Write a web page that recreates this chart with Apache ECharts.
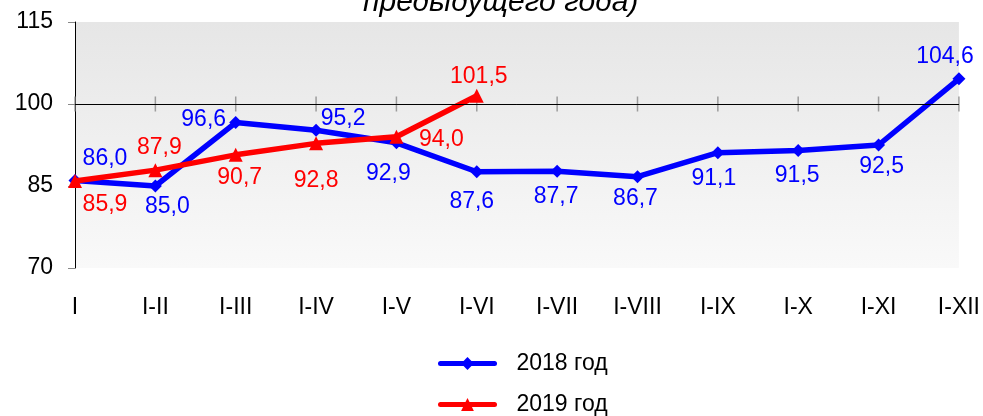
<!DOCTYPE html>
<html lang="ru">
<head>
    <meta charset="UTF-8">
    <title>Индексы</title>
    <script src="https://cdn.jsdelivr.net/npm/echarts@6/dist/echarts.min.js"></script>
    <style>
        html, body { margin: 0; padding: 0; background: #fff; }
        #chart { width: 983px; height: 416px; }
    </style>
</head>
<body>
    <div id="chart"></div>
    <script type="text/javascript">
        // данные
        var categories = ['I', 'I-II', 'I-III', 'I-IV', 'I-V', 'I-VI', 'I-VII', 'I-VIII', 'I-IX', 'I-X', 'I-XI', 'I-XII'];
        var data2018 = [86.0, 85.0, 96.6, 95.2, 92.9, 87.6, 87.7, 86.7, 91.1, 91.5, 92.5, 104.6];
        var data2019 = [85.9, 87.9, 90.7, 92.8, 94.0, 101.5];
        var seriesNames = ['2018 год', '2019 год'];
        var yMin = 70, yMax = 115, yStep = 15, baseLine = 100;

        // смещения подписей (px) относительно точки
        var off2018 = [[30, -22], [12, 21], [-32, -3], [27, -12], [-8, 31], [-5, 30], [-1, 25], [-2, 22], [-4, 26], [-1, 25], [3, 22], [-14, -22]];
        var off2019 = [[30, 24], [4, -22], [4, 23], [0, 37], [45, 3], [2, -19]];

        var font = 'Liberation Sans, Arial, sans-serif';
        function fmt(p) { return p.value.toFixed(1).replace('.', ','); }
        function withLabels(arr, offs) {
            return arr.map(function (v, i) { return { value: v, label: { offset: offs[i] } }; });
        }
        // одна легенда на каждую серию, друг под другом
        function legendFor(name, top) {
            return {
                data: [name],
                left: 438,
                top: top,
                padding: 0,
                itemWidth: 54,
                itemHeight: 16,
                lineStyle: { width: 5, cap: 'round' },
                textStyle: { fontFamily: font, fontSize: 23, color: '#000', padding: [0, 0, 0, 17] }
            };
        }

        var chart = echarts.init(document.getElementById('chart'));
        var option = {
            animation: false,
            title: {
                text: 'предыдущего года)',
                left: 358,
                top: -17,
                textStyle: { fontFamily: font, fontSize: 30, fontStyle: 'italic', fontWeight: 'normal', color: '#000' }
            },
            legend: [legendFor(seriesNames[0], 352), legendFor(seriesNames[1], 393)],
            grid: {
                left: 75, right: 23, top: 22, bottom: 148,
                show: true,
                borderWidth: 0,
                backgroundColor: {
                    type: 'linear', x: 0, y: 0, x2: 0, y2: 1,
                    colorStops: [{ offset: 0, color: '#e6e6e6' }, { offset: 1, color: '#f9f9f9' }]
                }
            },
            xAxis: {
                type: 'category',
                data: categories,
                boundaryGap: false,
                axisLine: { show: false },
                axisTick: { show: false },
                axisLabel: { fontFamily: font, fontSize: 23, color: '#000', margin: 28 }
            },
            yAxis: {
                type: 'value',
                min: yMin, max: yMax, interval: yStep,
                axisLine: { show: true, lineStyle: { color: '#000', width: 1 } },
                axisTick: { show: true, length: 7, lineStyle: { color: '#888' } },
                splitLine: { show: false },
                axisLabel: { fontFamily: font, fontSize: 23, color: '#000', margin: 22 }
            },
            series: [
                {
                    // засечки на линии 100
                    type: 'scatter',
                    data: categories.map(function () { return baseLine; }),
                    symbol: 'rect',
                    symbolSize: [1.5, 15],
                    itemStyle: { color: '#888' },
                    silent: true,
                    z: 1,
                    markLine: {
                        silent: true,
                        symbol: 'none',
                        label: { show: false },
                        lineStyle: { color: '#000', width: 1, type: 'solid' },
                        data: [{ yAxis: baseLine }]
                    }
                },
                {
                    name: seriesNames[0],
                    type: 'line',
                    data: withLabels(data2018, off2018),
                    symbol: 'diamond',
                    symbolSize: 13,
                    lineStyle: { color: '#0000ff', width: 5.5 },
                    itemStyle: { color: '#0000ff' },
                    label: {
                        show: true, position: 'inside', formatter: fmt,
                        color: '#0000ff', fontFamily: font, fontSize: 23
                    },
                    z: 3
                },
                {
                    name: seriesNames[1],
                    type: 'line',
                    data: withLabels(data2019, off2019),
                    symbol: 'triangle',
                    symbolSize: 14,
                    lineStyle: { color: '#ff0000', width: 5.5 },
                    itemStyle: { color: '#ff0000' },
                    label: {
                        show: true, position: 'inside', formatter: fmt,
                        color: '#ff0000', fontFamily: font, fontSize: 23
                    },
                    z: 4
                }
            ]
        };
        chart.setOption(option);
    </script>
</body>
</html>
